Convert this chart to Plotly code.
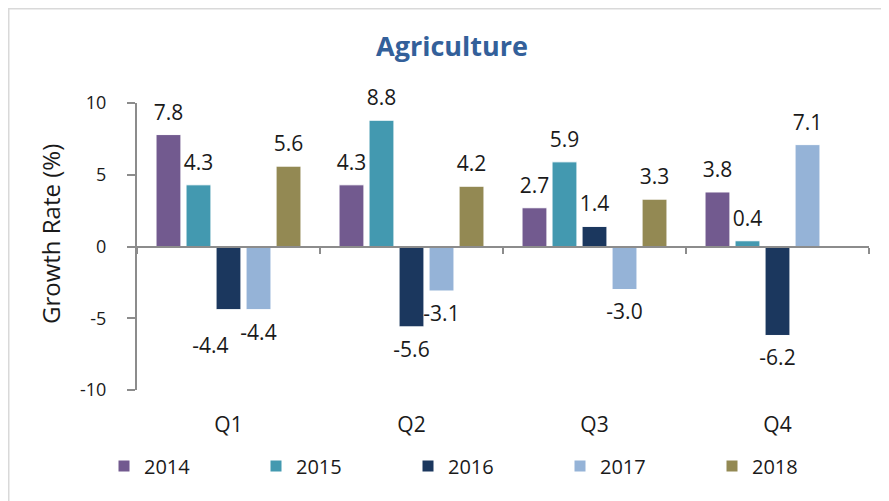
import plotly.graph_objects as go

quarters = ["Q1", "Q2", "Q3", "Q4"]
years = ["2014", "2015", "2016", "2017", "2018"]
g2014 = [7.8, 4.3, 2.7, 3.8]
g2015 = [4.3, 8.8, 5.9, 0.4]
g2016 = [-4.4, -5.6, 1.4, -6.2]
g2017 = [-4.4, -3.1, -3.0, 7.1]
g2018 = [5.6, 4.2, 3.3, None]
y_ticks = [-10, -5, 0, 5, 10]

series = [g2014, g2015, g2016, g2017, g2018]
colors = ["#725A8F", "#4399B0", "#1B375E", "#95B3D7", "#938953"]
FONT = "Open Sans"
TXT = "#1a1a1a"

# label placement tweak: the reference nudges one crowded label left and down
label_nudge = {("2016", "Q1"): dict(position="bottom left", size=0, drop=True)}

# figure size (page body adds an 8px margin in the browser)
W, H = 881, 493
L, R, T, B = 129, 20, 95, 111
PW, PH = W - L - R, H - T - B

fig = go.Figure()
for name, vals, col in zip(years, series, colors):
    fig.add_bar(
        x=quarters, y=vals, name=name, offsetgroup=name,
        marker=dict(color=col, line=dict(color="white", width=1)),
        hoverinfo="x+y+name",
    )
# data labels, grouped like the bars
for name, vals in zip(years, series):
    labels, pos, sizes = [], [], []
    for q, v in zip(quarters, vals):
        nudge = label_nudge.get((name, q), {})
        if v is None:
            labels.append("")
        else:
            labels.append(("<br>" if nudge.get("drop") else "") + f"{v:.1f}")
        neg = v is not None and v < 0
        pos.append(nudge.get("position", "bottom center" if neg else "top center"))
        sizes.append(nudge.get("size", 21 if neg else 14))
    fig.add_scatter(
        x=quarters, y=vals, offsetgroup=name, mode="markers+text",
        text=labels, textposition=pos,
        textfont=dict(family=FONT, size=21, color=TXT),
        marker=dict(size=sizes, opacity=0), showlegend=False,
        hoverinfo="skip", cliponaxis=False,
    )
# helper (invisible) trace so the zero-crossing category axis gets drawn
fig.add_scatter(x=quarters, y=[0] * len(quarters), xaxis="x2", mode="none",
                showlegend=False, hoverinfo="skip")

fig.update_layout(
    width=W, height=H,
    margin=dict(l=L, r=R, t=T, b=B, autoexpand=False),
    paper_bgcolor="white", plot_bgcolor="white",
    font=dict(family=FONT, color=TXT),
    title=dict(text="<b>Agriculture</b>", x=444 / W, xanchor="center",
               y=1 - 39 / H, yanchor="middle",
               font=dict(family=FONT, size=27, color="#33609A")),
    barmode="group", bargap=0.18, bargroupgap=0.17,
    scattermode="group", scattergap=0.18,
    showlegend=True,
    legend=dict(orientation="h", x=(96 - L) / PW, xanchor="left",
                y=(H - B - 458) / PH, yanchor="middle",
                font=dict(family=FONT, size=20, color=TXT),
                entrywidth=107, itemclick=False, traceorder="normal"),
    xaxis=dict(type="category", categoryarray=quarters, showline=False,
               ticks="", showgrid=False, zeroline=False,
               tickfont=dict(family=FONT, size=21, color=TXT),
               ticklabelstandoff=20),
    xaxis2=dict(overlaying="x", anchor="free", position=0.5,
                type="category", categoryarray=quarters,
                range=[-0.5, len(quarters) - 0.5], tickson="boundaries",
                showline=True, linecolor="#8c8c8c", linewidth=2,
                ticks="outside", ticklen=6, tickcolor="#8c8c8c", tickwidth=2,
                showticklabels=False, showgrid=False, zeroline=False),
    yaxis=dict(range=[-10, 10], tickvals=y_ticks,
               ticktext=[str(v) for v in y_ticks], showline=True,
               linecolor="#8c8c8c", linewidth=2, ticks="outside", ticklen=8,
               tickcolor="#8c8c8c", tickwidth=2, showgrid=False, zeroline=False,
               tickfont=dict(family=FONT, size=18, color=TXT),
               ticklabelstandoff=17),
    annotations=[dict(text="Growth Rate (%)", textangle=-90, showarrow=False,
                      xref="paper", yref="paper",
                      x=(42 - L) / PW, y=(H - B - 226) / PH,
                      xanchor="center", yanchor="middle",
                      font=dict(family=FONT, size=24, color=TXT))],
    shapes=[dict(type="rect", xref="paper", yref="paper",
                 x0=(0.75 - L) / PW, x1=(W + 10 - L) / PW,
                 y0=(H - B - H - 10) / PH, y1=(H - B - 0.75) / PH,
                 line=dict(color="#d9d9d9", width=1.5), layer="below")],
)

fig.write_html("out.html")
